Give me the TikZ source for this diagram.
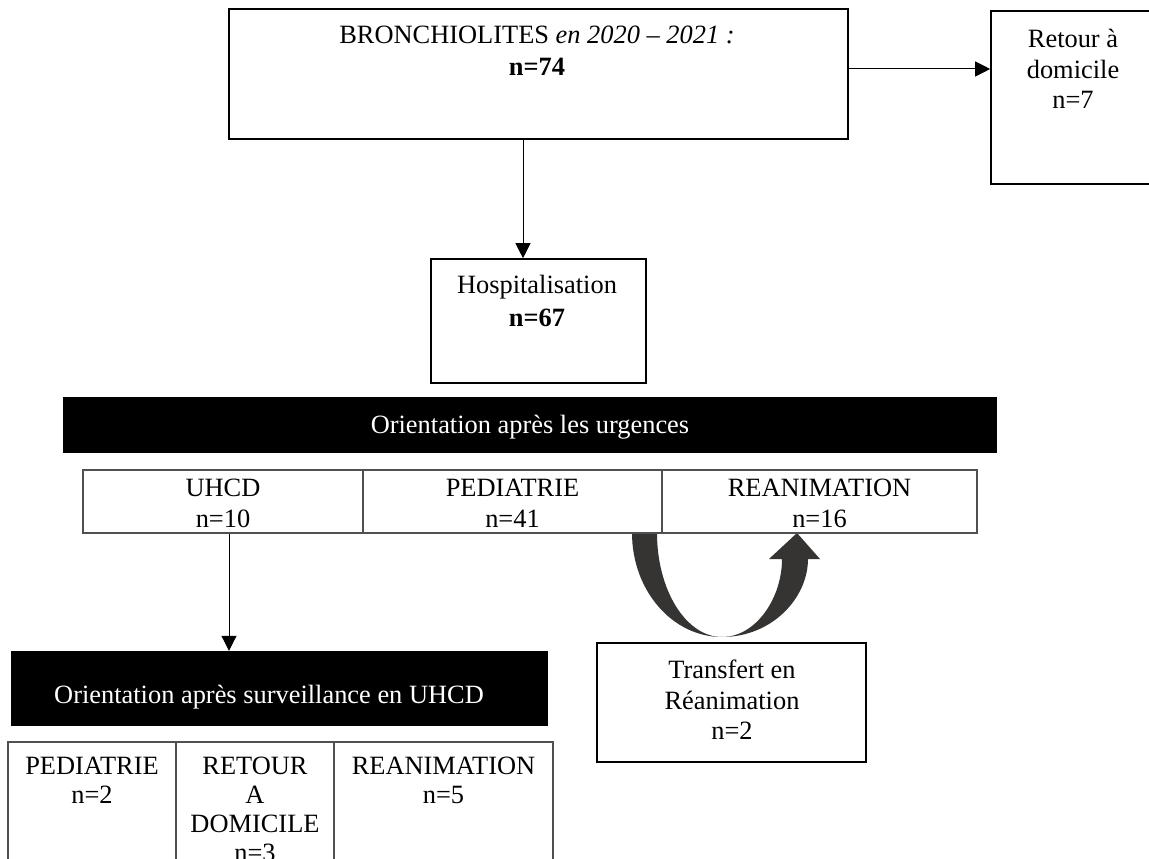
\documentclass[tikz,border=0pt]{standalone}
\usepackage{fontspec}
\setmainfont{Liberation Serif}
\usetikzlibrary{arrows.meta}
\definecolor{curvecol}{RGB}{54,52,50}
\definecolor{tabline}{RGB}{80,80,80}
\begin{document}
\begin{tikzpicture}[x=1pt,y=-1pt,
  box/.style={draw=black, line width=1.6pt, inner sep=0pt, fill=white},
  cell/.style={draw=tabline, line width=1.1pt, inner sep=0pt},
  banner/.style={fill=black, inner sep=0pt},
  txt/.style={inner sep=0pt, anchor=north, align=center, font=\fontsize{26.4}{30.5}\selectfont},
  ttxt/.style={txt, font=\fontsize{26.4}{29}\selectfont},
  wtxt/.style={txt, text=white},
  arr/.style={draw=black, line width=1pt, -{Triangle[length=15pt,width=15pt]}}
]
\clip (0,0) rectangle (1149,859);
\fill[white] (0,0) rectangle (1149,859);

% top box
\node[box, minimum width=619pt, minimum height=130pt] (top) at (538.5,74) {};
\node[txt] (toptxt) at (537,26) {BRONCHIOLITES \textit{en 2020 – 2021 :}\\[1.5pt] \textbf{n=74}};

% retour box
\node[box, minimum width=164pt, minimum height=173pt] (retour) at (1073,97.5) {};
\node[txt] (retourtxt) at (1073,29) {Retour à\\domicile\\n=7};

% hospitalisation
\node[box, minimum width=215pt, minimum height=124pt] (hosp) at (538.5,321) {};
\node[txt] (hosptxt) at (537,275) {Hospitalisation\\[2.5pt] \textbf{n=67}};

% arrows top
\draw[arr] ([yshift=5pt]top.east) -- ([yshift=5pt]top.east -| retour.west);
\draw[arr] ([xshift=-15.5pt]top.south) -- ([xshift=-15.5pt]top.south |- hosp.north);

% banner 1
\node[banner, minimum width=934pt, minimum height=56pt] (ban1) at (530,425) {};
\node[wtxt] (ban1txt) at (530,415) {Orientation après les urgences};

% curved arrow (Transfert en Réanimation)
\fill[curvecol] (632,533) .. controls (632,590) and (672,637) .. (722,637)
  .. controls (772,637) and (808,598) .. (808,559)
  -- (820,559) -- (797,533) -- (769,559) -- (782,559)
  .. controls (782,598) and (756,637) .. (722,637)
  .. controls (686,637) and (657,590) .. (657,533) -- cycle;

% table 1
\node[cell, minimum width=280pt, minimum height=63pt] (c11) at (223,501.5) {};
\node[cell, minimum width=299pt, minimum height=63pt] (c12) at (512.5,501.5) {};
\node[cell, minimum width=315pt, minimum height=63pt] (c13) at (819.5,501.5) {};
\node[txt] (t11) at (223,479) {UHCD\\n=10};
\node[txt] (t12) at (512.5,479) {PEDIATRIE\\n=41};
\node[txt] (t13) at (819.5,479) {REANIMATION\\n=16};

% transfer box
\node[box, minimum width=269pt, minimum height=119pt] (transf) at (731.5,702.5) {};
\node[txt] (transftxt) at (732,660) {Transfert en\\Réanimation\\n=2};

% banner 2
\node[banner, minimum width=537pt, minimum height=75pt] (ban2) at (279.5,688.5) {};
\node[wtxt] (ban2txt) at (269,685) {Orientation après surveillance en UHCD};

\draw[arr] ([xshift=6pt]c11.south) -- ([xshift=6pt]c11.south |- ban2.north);

% table 2
\node[cell, minimum width=168pt, minimum height=158pt] (c21) at (92,821) {};
\node[cell, minimum width=158pt, minimum height=158pt] (c22) at (255,821) {};
\node[cell, minimum width=219pt, minimum height=158pt] (c23) at (443.5,821) {};
\node[ttxt] (t21) at (92,757) {PEDIATRIE\\n=2};
\node[ttxt] (t22) at (255,757) {RETOUR\\A\\DOMICILE\\n=3};
\node[ttxt] (t23) at (443.5,757) {REANIMATION\\n=5};
\end{tikzpicture}
\end{document}
